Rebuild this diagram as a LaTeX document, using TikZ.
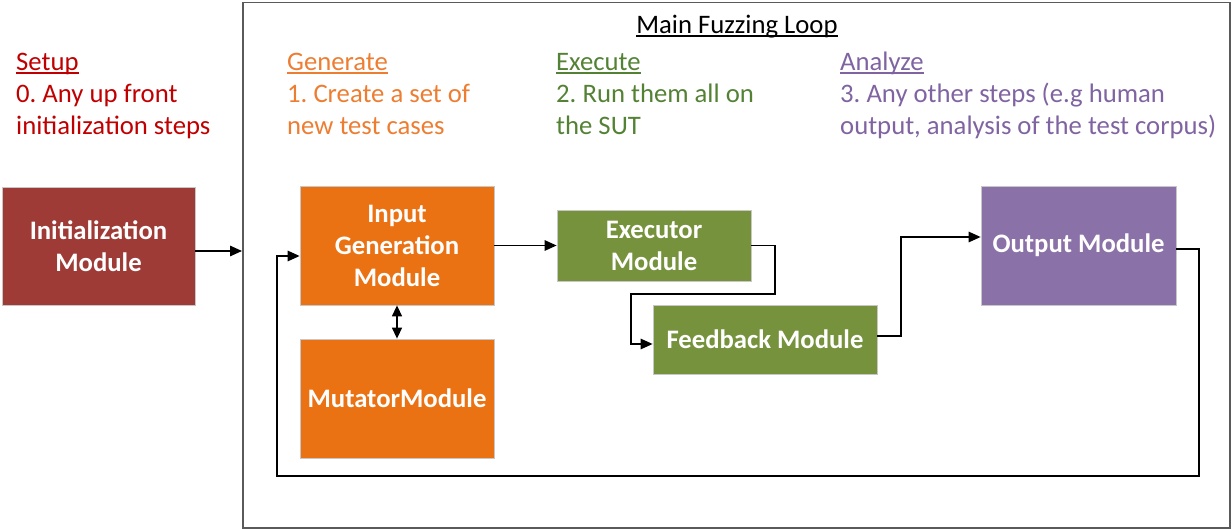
\documentclass[tikz,border=0pt]{standalone}
\usepackage{fontspec}
\setmainfont{Carlito}
\usetikzlibrary{arrows.meta}
\frenchspacing
\newcommand{\myul}[1]{\setbox0\hbox{#1}\rlap{\rule[-2.8pt]{\wd0}{1.3pt}}\box0}
\definecolor{setupc}{HTML}{C00000}
\definecolor{genc}{HTML}{ED7D31}
\definecolor{exec}{HTML}{548235}
\definecolor{anac}{HTML}{8064A2}
\definecolor{initf}{HTML}{9E3B37}
\definecolor{orf}{HTML}{EB7213}
\definecolor{grf}{HTML}{77923C}
\definecolor{puf}{HTML}{8A71A7}
\definecolor{framec}{HTML}{5A5A5A}
\tikzset{
  hdr/.style={anchor=base west, inner sep=0pt, align=left, font=\fontsize{26.7}{32}\selectfont},
  modbox/.style={draw=black!22, line width=0.8pt, text=white, align=center,
    font=\fontsize{26.7}{32}\selectfont\bfseries, inner sep=0pt},
  arr/.style={line width=1.4pt, -{Triangle[length=12pt,width=10.5pt]}},
  darr/.style={line width=1.4pt, {Triangle[length=11pt,width=10pt]}-{Triangle[length=11pt,width=10pt]}},
}
\begin{document}
\begin{tikzpicture}[x=1pt,y=-1pt]
\useasboundingbox (0,0) rectangle (1232,529);
% frame
\node[draw=framec, line width=1.5pt, minimum width=987pt, minimum height=525pt, inner sep=0pt, anchor=north west] (frame) at (242,2) {};
\node[anchor=base, inner sep=0pt, font=\fontsize{26.7}{32}\selectfont] (title) at (737,34) {\myul{Main Fuzzing Loop}};
% headers (base anchor = baseline of the last line)
\node[hdr, text=setupc] (setup) at (16,135) {\myul{Setup}\\0. Any up front\\initialization steps};
\node[hdr, text=genc] (gen) at (287,135) {\myul{Generate}\\1. Create a set of\\new test cases};
\node[hdr, text=exec] (exh) at (556,135) {\myul{Execute}\\2. Run them all on\\the SUT};
\node[hdr, text=anac] (ana) at (840,135) {\myul{Analyze}\\3. Any other steps (e.g human\\output, analysis of the test corpus)};
% modules
\node[modbox, fill=initf, minimum width=193pt, minimum height=118pt] (init) at (98.5,246) {Initialization\\Module};
\node[modbox, fill=orf, minimum width=194pt, minimum height=119pt] (ingen) at (397,245.5) {Input\\Generation\\Module};
\node[modbox, fill=orf, minimum width=194pt, minimum height=119pt] (mut) at (397,398.5) {MutatorModule};
\node[modbox, fill=grf, minimum width=194pt, minimum height=71pt] (exe) at (654,245.5) {Executor\\Module};
\node[modbox, fill=grf, minimum width=224pt, minimum height=69pt] (feed) at (765,339.5) {Feedback Module};
\node[modbox, fill=puf, minimum width=195pt, minimum height=119pt] (out) at (1078.5,245.5) {Output Module};
% connectors
\coordinate (c1) at (775,294);
\coordinate (c2) at (631,294);
\coordinate (c4) at (1199,476);
\coordinate (c5) at (277,476);
\coordinate (outin) at ([yshift=8.5pt]out.west);
\coordinate (c3) at (901,0);
\draw[arr] ([yshift=-5pt]init.east) -- ([yshift=-5pt]init.east -| frame.west);
\draw[arr] (ingen.east) -- (exe.west);
\draw[darr] (ingen.south) -- (mut.north);
\draw[arr] (exe.east) -| (c1) -- (c2) |- ([yshift=-4.5pt]feed.west);
\draw[arr] ([yshift=3.5pt]feed.east) -| (c3 |- outin) -- (outin);
\draw[arr] ([yshift=-3.5pt]out.east) -| (c4) -- (c5) |- ([yshift=-10.5pt]ingen.west);
\end{tikzpicture}
\end{document}
